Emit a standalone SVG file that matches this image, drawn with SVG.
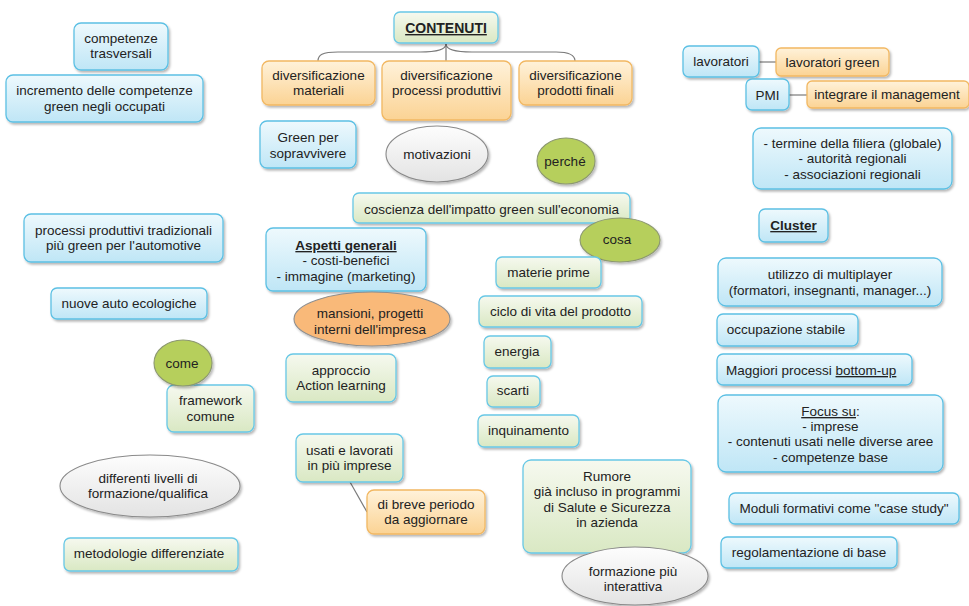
<svg xmlns="http://www.w3.org/2000/svg" width="969" height="606" viewBox="0 0 969 606">
<defs>
<linearGradient id="gBlue" x1="0" y1="0" x2="0" y2="1"><stop offset="0" stop-color="#eef9fd"/><stop offset="1" stop-color="#bfe6f6"/></linearGradient>
<linearGradient id="gGreen" x1="0" y1="0" x2="0" y2="1"><stop offset="0" stop-color="#f6f9ef"/><stop offset="1" stop-color="#d9e8c3"/></linearGradient>
<linearGradient id="gOrange" x1="0" y1="0" x2="0" y2="1"><stop offset="0" stop-color="#fff2da"/><stop offset="1" stop-color="#fbd394"/></linearGradient>
<linearGradient id="gWhite" x1="0" y1="0" x2="0" y2="1"><stop offset="0" stop-color="#fdfdfd"/><stop offset="1" stop-color="#e3e3e3"/></linearGradient>
<filter id="sh" x="-10%" y="-10%" width="125%" height="140%"><feDropShadow dx="1.5" dy="2" stdDeviation="1.3" flood-color="#000" flood-opacity="0.28"/></filter>
</defs>
<style>
text{font-family:"Liberation Sans",Arial,sans-serif;font-size:13.5px;fill:#222;text-anchor:middle}
.b rect,.b ellipse{fill:url(#gBlue);stroke:#5cc0e4;stroke-width:1.3;filter:url(#sh)}
.g rect{fill:url(#gGreen);stroke:#68c8e6;stroke-width:1.3;filter:url(#sh)}
.o rect{fill:url(#gOrange);stroke:#f2b862;stroke-width:1.3;filter:url(#sh)}
.w ellipse{fill:url(#gWhite);stroke:#8a8a8a;stroke-width:1.1;filter:url(#sh)}
.lg ellipse{fill:#b6cf5c;stroke:#8c9870;stroke-width:1.1;filter:url(#sh)}
.oe ellipse{fill:#f9b979;stroke:#8f8f8f;stroke-width:1.1;filter:url(#sh)}
.hd{font-weight:bold;text-decoration:underline}
.u{text-decoration:underline}
#connectors path,#connectors line{fill:none;stroke:#7a7a7a;stroke-width:1.2}
</style>
<g id="connectors">
<path d="M446,44 C446,50 436,52 420,52 L338,52 C322,52 318,55 318,61"/>
<path d="M446,44 C446,50 456,52 472,52 L556,52 C570,52 575,55 575,61"/>
<path d="M446,44 L446,61"/>
<line x1="759" y1="62" x2="776" y2="62"/>
<line x1="789" y1="95" x2="807" y2="95"/>
<line x1="350" y1="482" x2="367" y2="512"/>
</g>
<g id="n-contenuti" class="g"><rect x="394" y="12" width="104" height="31" rx="6"/><text x="446" y="33" class="hd" style="font-size:14px">CONTENUTI</text></g>
<g id="n-divmat" class="o"><rect x="262" y="61" width="113" height="44" rx="7"/><text x="318.5" y="80">diversificazione</text><text x="318.5" y="95">materiali</text></g>
<g id="n-divproc" class="o"><rect x="382" y="61" width="129" height="59" rx="7"/><text x="446.5" y="80">diversificazione</text><text x="446.5" y="95">processi produttivi</text></g>
<g id="n-divprod" class="o"><rect x="519" y="61" width="113" height="44" rx="7"/><text x="575.5" y="80">diversificazione</text><text x="575.5" y="95">prodotti finali</text></g>
<g id="n-green" class="b"><rect x="260" y="121" width="96" height="47" rx="7"/><text x="308" y="142">Green per</text><text x="308" y="158">sopravvivere</text></g>
<g id="n-motivazioni" class="w"><ellipse cx="437" cy="154" rx="51" ry="28"/><text x="437" y="159">motivazioni</text></g>
<g id="n-perche" class="lg"><ellipse cx="566" cy="161" rx="29" ry="23"/><text x="565" y="166">perché</text></g>
<g id="n-coscienza" class="g"><rect x="353" y="193" width="277" height="30" rx="6"/><text x="491.5" y="214">coscienza dell'impatto green sull'economia</text></g>
<g id="n-cosa" class="lg"><ellipse cx="620" cy="240" rx="40" ry="22"/><text x="617" y="244">cosa</text></g>
<g id="n-aspetti" class="b"><rect x="266" y="228" width="160" height="63" rx="7"/><text x="346" y="250" class="hd">Aspetti generali</text><text x="346" y="265">- costi-benefici</text><text x="346" y="281">- immagine (marketing)</text></g>
<g id="n-mansioni" class="oe"><ellipse cx="372" cy="319" rx="78" ry="27"/><text x="370" y="318">mansioni, progetti</text><text x="370" y="334">interni dell'impresa</text></g>
<g id="n-approccio" class="g"><rect x="286" y="354" width="110" height="48" rx="7"/><text x="341" y="375">approccio</text><text x="341" y="390">Action learning</text></g>
<g id="n-materie" class="g"><rect x="496" y="257" width="105" height="31" rx="6"/><text x="548.5" y="277">materie prime</text></g>
<g id="n-ciclo" class="g"><rect x="479" y="296" width="163" height="31" rx="6"/><text x="560.5" y="316">ciclo di vita del prodotto</text></g>
<g id="n-energia" class="g"><rect x="484" y="336" width="67" height="32" rx="6"/><text x="517" y="356">energia</text></g>
<g id="n-scarti" class="g"><rect x="487" y="376" width="53" height="31" rx="6"/><text x="513" y="395">scarti</text></g>
<g id="n-inquinamento" class="g"><rect x="478" y="415" width="101" height="32" rx="6"/><text x="528.5" y="435">inquinamento</text></g>
<g id="n-rumore" class="g"><rect x="523" y="460" width="168" height="93" rx="8"/><text x="607" y="481">Rumore</text><text x="607" y="496">già incluso in programmi</text><text x="607" y="512">di Salute e Sicurezza</text><text x="607" y="527">in azienda</text></g>
<g id="n-formazione" class="w"><ellipse cx="635" cy="576" rx="73" ry="29"/><text x="633" y="576">formazione più</text><text x="633" y="591">interattiva</text></g>
<g id="n-competenze" class="b"><rect x="74" y="23" width="94" height="47" rx="7"/><text x="121" y="43">competenze</text><text x="121" y="58">trasversali</text></g>
<g id="n-incremento" class="b"><rect x="6" y="75" width="197" height="47" rx="7"/><text x="104.5" y="95">incremento delle competenze</text><text x="104.5" y="111">green negli occupati</text></g>
<g id="n-processi" class="b"><rect x="24" y="214" width="199" height="48" rx="7"/><text x="123.5" y="235">processi produttivi tradizionali</text><text x="123.5" y="250">più green per l'automotive</text></g>
<g id="n-nuove" class="b"><rect x="51" y="288" width="156" height="31" rx="6"/><text x="129" y="308">nuove auto ecologiche</text></g>
<g id="n-framework" class="g"><rect x="167" y="385" width="87" height="47" rx="7"/><text x="210.5" y="405">framework</text><text x="210.5" y="421">comune</text></g>
<g id="n-come" class="lg"><ellipse cx="183" cy="363" rx="29" ry="23"/><text x="182" y="368">come</text></g>
<g id="n-differenti" class="w"><ellipse cx="150" cy="486" rx="90" ry="31"/><text x="148" y="483">differenti livelli di</text><text x="148" y="498">formazione/qualifica</text></g>
<g id="n-metodologie" class="g"><rect x="64" y="538" width="174" height="33" rx="6"/><text x="149" y="558">metodologie differenziate</text></g>
<g id="n-usati" class="g"><rect x="296" y="434" width="107" height="48" rx="7"/><text x="349.5" y="455">usati e lavorati</text><text x="349.5" y="470">in più imprese</text></g>
<g id="n-breve" class="o"><rect x="367" y="490" width="118" height="44" rx="7"/><text x="426" y="509">di breve periodo</text><text x="426" y="524">da aggiornare</text></g>
<g id="n-lavoratori" class="b"><rect x="683" y="46" width="76" height="31" rx="6"/><text x="721" y="66">lavoratori</text></g>
<g id="n-lavgreen" class="o"><rect x="776" y="48" width="113" height="28" rx="5"/><text x="832.5" y="67">lavoratori green</text></g>
<g id="n-pmi" class="b"><rect x="746" y="79" width="43" height="31" rx="6"/><text x="767.5" y="100">PMI</text></g>
<g id="n-integrare" class="o"><rect x="807" y="81" width="162" height="27" rx="5"/><text x="887" y="99">integrare il management</text></g>
<g id="n-termine" class="b"><rect x="753" y="128" width="199" height="61" rx="8"/><text x="852.5" y="148">- termine della filiera (globale)</text><text x="852.5" y="163">- autorità regionali</text><text x="852.5" y="179">- associazioni regionali</text></g>
<g id="n-cluster" class="b"><rect x="759" y="209" width="69" height="33" rx="6"/><text x="793.5" y="230" class="hd">Cluster</text></g>
<g id="n-utilizzo" class="b"><rect x="718" y="258" width="224" height="48" rx="8"/><text x="830" y="279">utilizzo di multiplayer</text><text x="830" y="295">(formatori, insegnanti, manager...)</text></g>
<g id="n-occupazione" class="b"><rect x="717" y="314" width="141" height="32" rx="6"/><text x="786" y="334">occupazione stabile</text></g>
<g id="n-maggiori" class="b"><rect x="717" y="354" width="195" height="31" rx="6"/><text x="726" y="375" style="text-anchor:start">Maggiori processi <tspan class="u">bottom-up </tspan></text></g>
<g id="n-focus" class="b"><rect x="718" y="395" width="225" height="77" rx="8"/><text x="830.5" y="416"><tspan class="u">Focus su</tspan>:</text><text x="830.5" y="431">- imprese</text><text x="830.5" y="446">- contenuti usati nelle diverse aree</text><text x="830.5" y="462">- competenze base</text></g>
<g id="n-moduli" class="b"><rect x="729" y="493" width="230" height="31" rx="6"/><text x="844" y="513">Moduli formativi come "case study"</text></g>
<g id="n-regolamentazione" class="b"><rect x="721" y="537" width="176" height="31" rx="6"/><text x="809" y="557">regolamentazione di base</text></g>
</svg>
